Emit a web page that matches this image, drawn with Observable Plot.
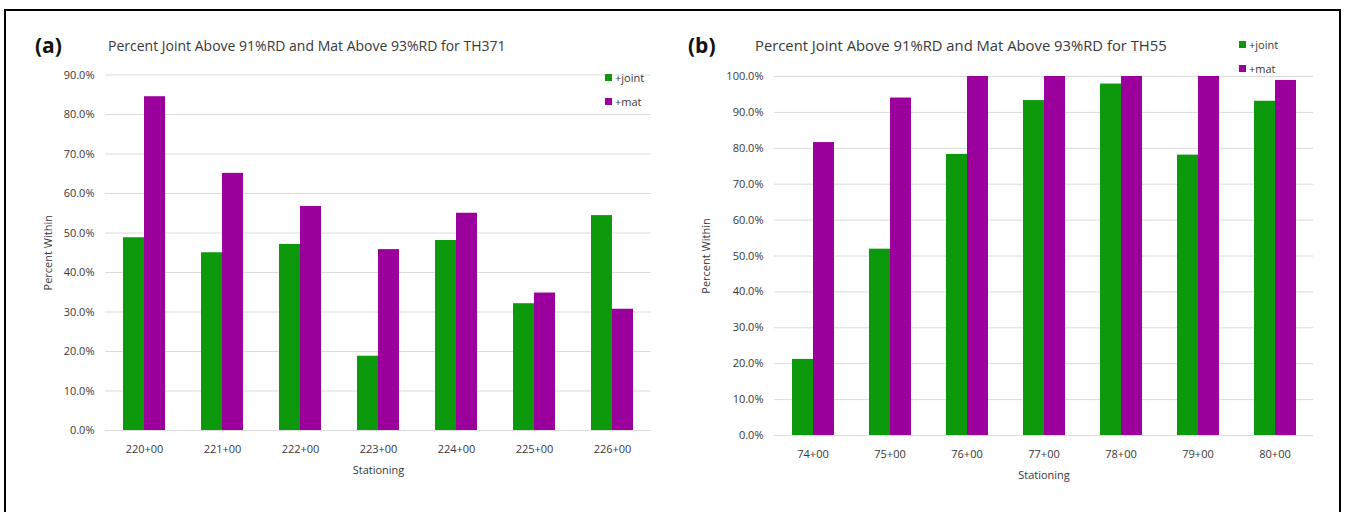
<!DOCTYPE html>
<html><head><meta charset="utf-8">
<script src="https://cdn.jsdelivr.net/npm/d3@7"></script>
<script src="https://cdn.jsdelivr.net/npm/@observablehq/plot@0.6"></script>
<style>
body{margin:0;background:#fff;overflow:hidden;font-family:"Open Sans",sans-serif;}
#root{position:relative;width:1345px;height:512px;overflow:hidden;background:#fff;}
#frame{position:absolute;left:4px;top:9px;width:1333px;height:540px;border:2px solid #000;pointer-events:none;}
.panel{position:absolute;top:0;}
.tag{position:absolute;font-weight:bold;font-size:21px;color:#111;line-height:1;}
.title{position:absolute;color:#383838;white-space:nowrap;line-height:1;}
.legend{position:absolute;font-size:11px;color:#383838;}
.legend .it{display:flex;align-items:center;height:24px;}
.sw{width:7px;height:7px;margin-right:3px;}
</style></head><body><div id="root"><div id="frame"></div></div>
<script>
const seriesNames = ["+joint", "+mat"];
const seriesColors = ["#0c9a0c", "#9c009c"];

const stationsA = ["220+00", "221+00", "222+00", "223+00", "224+00", "225+00", "226+00"];
const jointA = [48.8, 45.0, 47.1, 18.8, 48.1, 32.1, 54.4];
const matA = [84.5, 65.1, 56.7, 45.8, 55.0, 34.8, 30.7];
const ticksA = [0, 10, 20, 30, 40, 50, 60, 70, 80, 90];
const titleA = "Percent Joint Above 91%RD and Mat Above 93%RD for TH371";

const stationsB = ["74+00", "75+00", "76+00", "77+00", "78+00", "79+00", "80+00"];
const jointB = [21.2, 51.9, 78.3, 93.3, 97.9, 78.1, 93.1];
const matB = [81.6, 94.0, 100, 100, 100, 100, 98.9];
const ticksB = [0, 10, 20, 30, 40, 50, 60, 70, 80, 90, 100];
const titleB = "Percent Joint Above 91%RD and Mat Above 93%RD for TH55";

const root = document.getElementById("root");

function makePanel(cfg) {
  const rows = [];
  cfg.stations.forEach((s, i) => {
    rows.push({station: s, series: seriesNames[0], value: cfg.joint[i]});
    rows.push({station: s, series: seriesNames[1], value: cfg.mat[i]});
  });
  const chart = Plot.plot({
    width: cfg.width,
    height: 500,
    marginLeft: cfg.ml,
    marginRight: cfg.mr,
    marginTop: cfg.mt,
    marginBottom: 500 - cfg.y0,
    style: {fontFamily: "'Open Sans', sans-serif", fontSize: "11px", color: "#383838", background: "transparent"},
    fx: {domain: cfg.stations, padding: 0, axis: "bottom", tickSize: 0, tickPadding: 15,
         label: "Stationing", labelAnchor: "center", labelOffset: 43},
    x: {domain: seriesNames, paddingInner: 0, paddingOuter: 0.8, axis: null},
    y: {domain: [0, cfg.ymax], ticks: cfg.ticks, tickSize: 0, tickPadding: 11,
        tickFormat: d => d.toFixed(1) + "%", label: "Percent Within", labelAnchor: "center",
        labelOffset: cfg.lo, labelArrow: "none"},
    color: {domain: seriesNames, range: seriesColors},
    marks: [
      Plot.ruleY(cfg.ticks, {stroke: "#dcdcdc", strokeWidth: 1}),
      Plot.barY(rows, {fx: "station", x: "series", y: "value", fill: "series"})
    ]
  });
  const wrap = document.createElement("div");
  wrap.className = "panel";
  wrap.style.left = cfg.left + "px";
  wrap.appendChild(chart);
  root.appendChild(wrap);

  const tag = document.createElement("div");
  tag.className = "tag";
  tag.textContent = cfg.tag;
  tag.style.left = cfg.tagX + "px";
  tag.style.top = "35px";
  root.appendChild(tag);

  const t = document.createElement("div");
  t.className = "title";
  t.textContent = cfg.title;
  t.style.left = cfg.titleX + "px";
  t.style.top = cfg.titleY + "px";
  t.style.fontSize = cfg.titleSize + "px";
  root.appendChild(t);

  const lg = document.createElement("div");
  lg.className = "legend";
  lg.style.left = cfg.legX + "px";
  lg.style.top = cfg.legY + "px";
  seriesNames.forEach((n, i) => {
    const it = document.createElement("div");
    it.className = "it";
    const sw = document.createElement("span");
    sw.className = "sw";
    sw.style.background = seriesColors[i];
    it.appendChild(sw);
    it.appendChild(document.createTextNode(n));
    lg.appendChild(it);
  });
  root.appendChild(lg);
}

makePanel({stations: stationsA, joint: jointA, mat: matA, ticks: ticksA, ymax: 90,
  width: 672, left: 0, ml: 104, mr: 21, mt: 74.5, y0: 430, lo: 61,
  tag: "(a)", tagX: 35, title: titleA, titleX: 108, titleY: 39, titleSize: 14,
  legX: 605, legY: 65});
makePanel({stations: stationsB, joint: jointB, mat: matB, ticks: ticksB, ymax: 100,
  width: 673, left: 672, ml: 100, mr: 31, mt: 76, y0: 435, lo: 72,
  tag: "(b)", tagX: 688, title: titleB, titleX: 755, titleY: 38, titleSize: 14.8,
  legX: 1239, legY: 32});
</script></body></html>
